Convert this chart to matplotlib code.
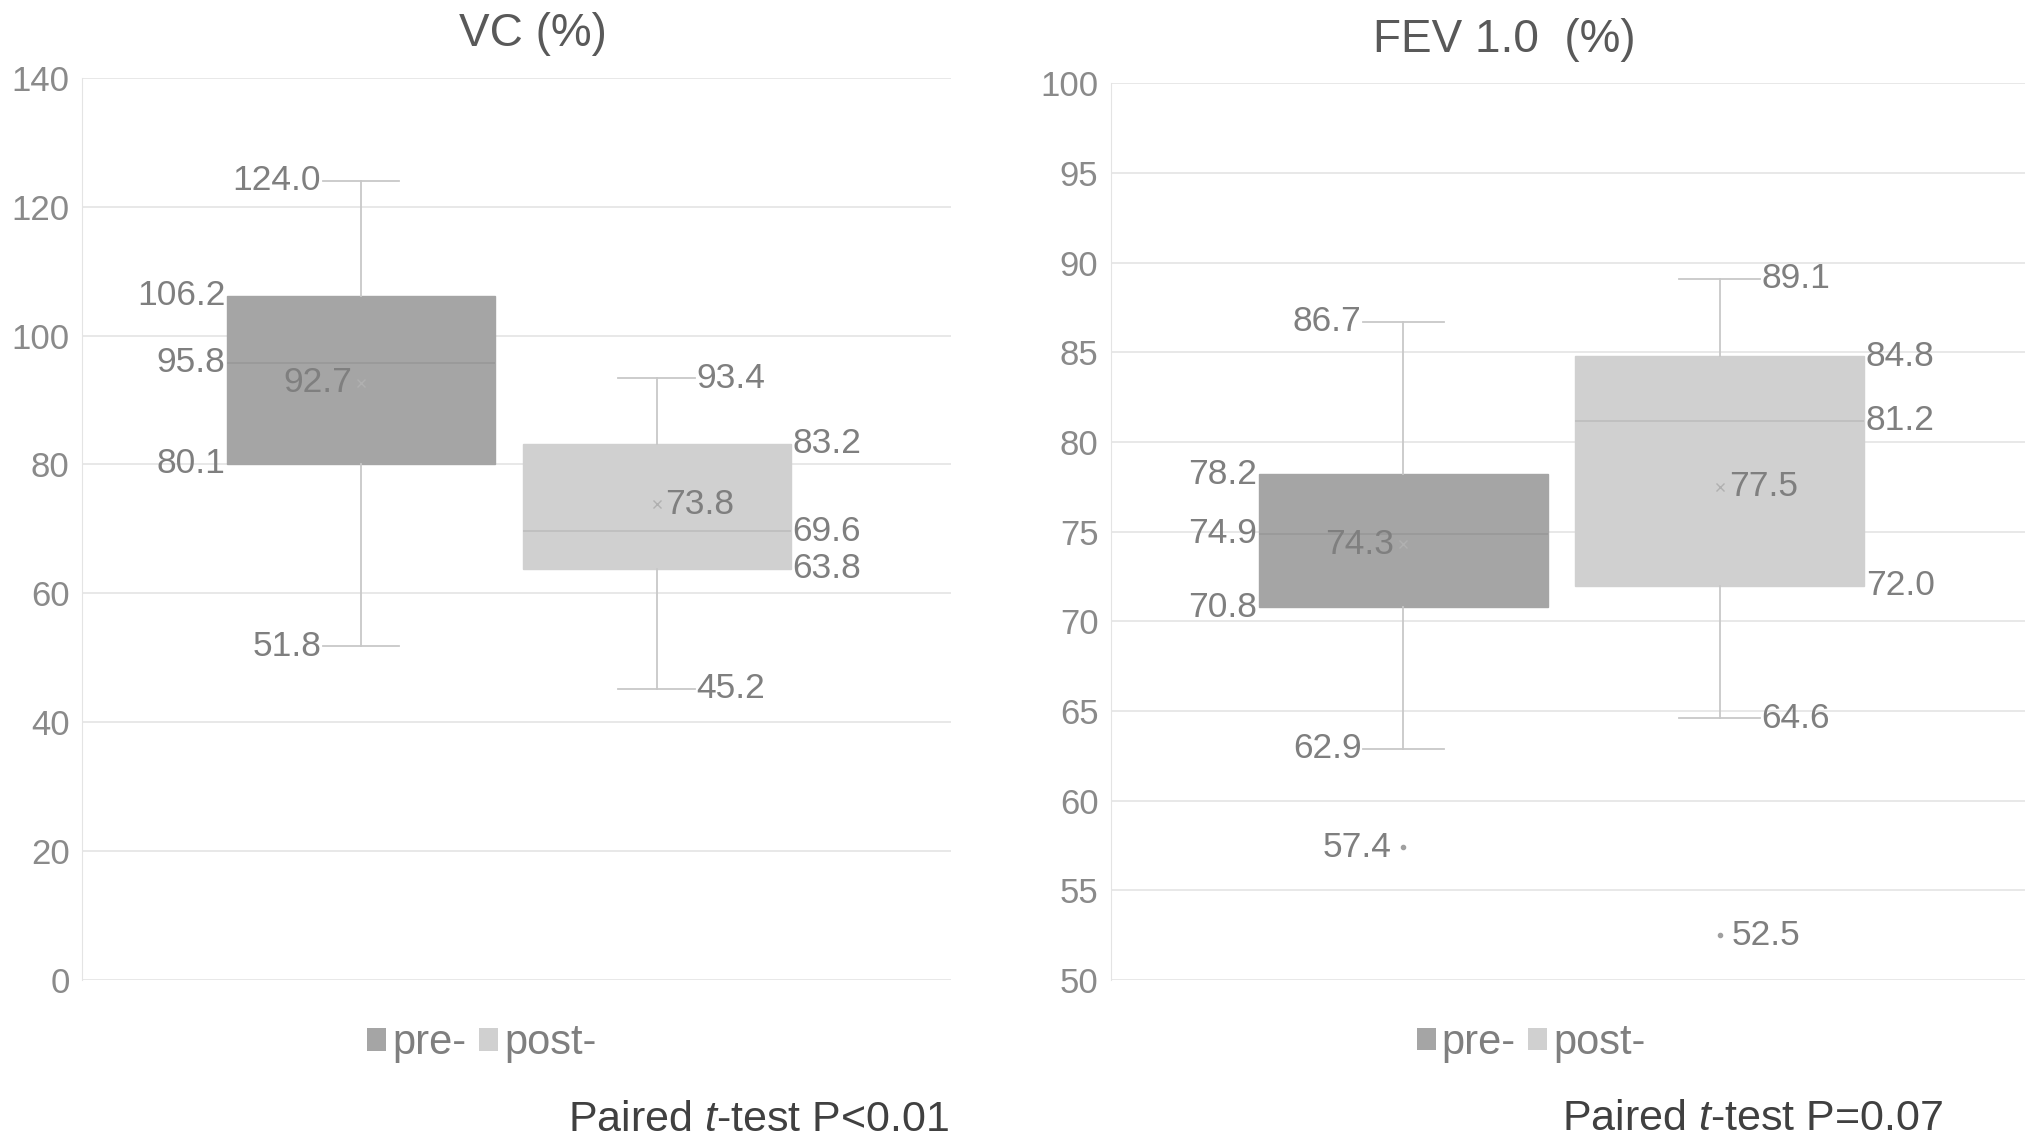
import matplotlib
matplotlib.use("Agg")
import matplotlib.pyplot as plt
from matplotlib.patches import Patch

plt.rcParams['font.family'] = ['Liberation Sans', 'DejaVu Sans']
plt.rcParams['mathtext.fontset'] = 'custom'
plt.rcParams['mathtext.rm'] = 'Liberation Sans'
plt.rcParams['mathtext.it'] = 'Liberation Sans:italic'

# box statistics
groups = ['pre-', 'post-']

vc_q1 = [80.1, 63.8]
vc_med = [95.8, 69.6]
vc_q3 = [106.2, 83.2]
vc_lo = [51.8, 45.2]
vc_hi = [124.0, 93.4]
vc_mean = [92.7, 73.8]
vc_fliers = [[], []]

fev_q1 = [70.8, 72.0]
fev_med = [74.9, 81.2]
fev_q3 = [78.2, 84.8]
fev_lo = [62.9, 64.6]
fev_hi = [86.7, 89.1]
fev_mean = [74.3, 77.5]
fev_fliers = [[57.4], [52.5]]

box_colors = ['#a5a5a5', '#d0d0d0']
med_colors = ['#989898', '#bdbdbd']
text_col = '#7f7f7f'


def draw_panel(ax, q1, med, q3, lo, hi, mean, fliers, ylim, step, title, tx, pnote, px,
               positions, width):
    stats = []
    for i in range(2):
        stats.append(dict(med=med[i], q1=q1[i], q3=q3[i], whislo=lo[i], whishi=hi[i],
                          mean=mean[i], fliers=fliers[i], label=groups[i]))
    for i in range(2):
        ax.bxp([stats[i]], positions=[positions[i]], widths=width, patch_artist=True,
               showmeans=True, capwidths=0.088,
               boxprops=dict(facecolor=box_colors[i], edgecolor=box_colors[i], linewidth=1),
               medianprops=dict(color=med_colors[i], linewidth=1.2),
               whiskerprops=dict(color='#c8c8c8', linewidth=1.3),
               capprops=dict(color='#c8c8c8', linewidth=1.3),
               meanprops=dict(marker='x', markersize=6, markeredgecolor='#b0b0b0',
                              markeredgewidth=1),
               flierprops=dict(marker='o', markersize=3, markerfacecolor='#a0a0a0',
                               markeredgecolor='#a0a0a0'),
               zorder=3)

    # data labels: pre- on the left, post- on the right
    for i in range(2):
        x = positions[i]
        if i == 0:
            edge = x - width / 2 - 0.002
            cap = x - 0.046
            ha = 'right'
            mx = x - 0.01
        else:
            edge = x + width / 2 + 0.002
            cap = x + 0.046
            ha = 'left'
            mx = x + 0.01
        for v in (q3[i], med[i], q1[i]):
            ax.text(edge, v, f'{v:.1f}', ha=ha, va='center', fontsize=25.5, color=text_col, zorder=4)
        for v in (hi[i], lo[i]):
            ax.text(cap, v, f'{v:.1f}', ha=ha, va='center', fontsize=25.5, color=text_col, zorder=4)
        ax.text(mx, mean[i], f'{mean[i]:.1f}', ha=ha, va='center', fontsize=25.5,
                color=text_col, zorder=4)
        for v in fliers[i]:
            ax.text(mx - (0.003 if i == 0 else -0.003), v, f'{v:.1f}', ha=ha, va='center',
                    fontsize=25.5, color=text_col, zorder=4)

    ax.set_xlim(-0.5, 0.5)
    ax.set_ylim(*ylim)
    ax.set_yticks(range(ylim[0], ylim[1] + 1, step))
    ax.set_xticks([])
    ax.grid(axis='y', color='#e4e4e4', linewidth=1.2, zorder=0)
    ax.set_axisbelow(True)
    for s in ['top', 'right', 'bottom']:
        ax.spines[s].set_visible(False)
    ax.spines['left'].set_color('#e4e4e4')
    ax.tick_params(axis='y', length=0, pad=9, labelsize=25, labelcolor='#8a8a8a')

    ax.text(tx, 1.048, title, transform=ax.transAxes, ha='center', va='center',
            fontsize=33, color='#595959')

    handles = [Patch(facecolor=box_colors[0], edgecolor='none'),
               Patch(facecolor=box_colors[1], edgecolor='none')]
    ax.legend(handles, groups, loc='center', bbox_to_anchor=(0.46, -0.07), ncol=2,
              frameon=False, fontsize=30, labelcolor='#7f7f7f', handlelength=0.45,
              handleheight=0.45, handletextpad=0.15, columnspacing=0.3)

    ax.text(px, -0.155, pnote, transform=ax.transAxes, ha='right', va='center',
            fontsize=31, color='#404040')


fig = plt.figure(figsize=(20.31, 11.48), dpi=100)
ax1 = fig.add_axes([0.0404, 0.1463, 0.428, 0.786])
ax2 = fig.add_axes([0.547, 0.1463, 0.450, 0.781])

draw_panel(ax1, vc_q1, vc_med, vc_q3, vc_lo, vc_hi, vc_mean, vc_fliers, (0, 140), 20,
           'VC (%)', 0.519, 'Paired $\\mathit{t}$-test P<0.01', 0.997,
           [-0.179, 0.161], 0.308)
draw_panel(ax2, fev_q1, fev_med, fev_q3, fev_lo, fev_hi, fev_mean, fev_fliers, (50, 100), 5,
           'FEV 1.0  (%)', 0.43, 'Paired $\\mathit{t}$-test P=0.07', 0.91,
           [-0.18, 0.166], 0.316)

fig.savefig('out.png', dpi=100)
